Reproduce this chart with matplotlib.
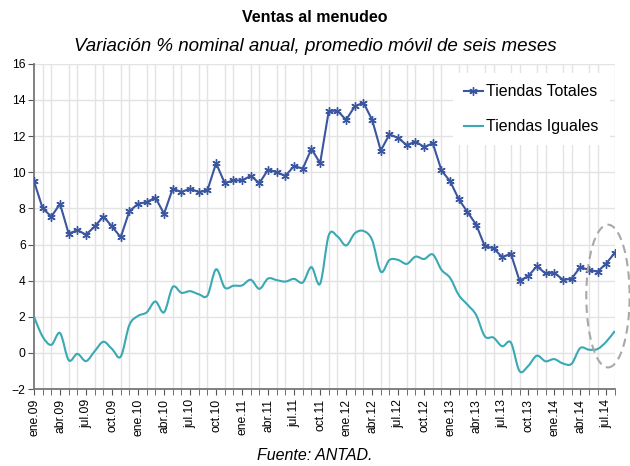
import numpy as np
import matplotlib.pyplot as plt
from matplotlib.path import Path
from matplotlib.patches import PathPatch, Ellipse
from matplotlib.lines import Line2D

plt.rcParams['font.family'] = ['Liberation Sans', 'DejaVu Sans']

meses = ['ene', 'feb', 'mar', 'abr', 'may', 'jun', 'jul', 'ago', 'sep', 'oct', 'nov', 'dic']
anios = [9, 10, 11, 12, 13, 14]

# Tiendas Totales, ene.09 - ago.14
totales = [9.5, 8.0, 7.55, 8.25, 6.6, 6.8, 6.55, 7.0, 7.55, 7.0, 6.4, 7.85,
           8.25, 8.35, 8.6, 7.7, 9.1, 8.9, 9.1, 8.9, 9.0, 10.5, 9.4, 9.55,
           9.55, 9.8, 9.4, 10.15, 10.0, 9.8, 10.35, 10.2, 11.3, 10.5, 13.4, 13.4,
           12.9, 13.65, 13.85, 12.9, 11.2, 12.1, 11.9, 11.5, 11.7, 11.4, 11.6, 10.1,
           9.5, 8.5, 7.8, 7.1, 5.9, 5.8, 5.3, 5.5, 4.0, 4.25, 4.8, 4.4,
           4.45, 4.05, 4.1, 4.75, 4.6, 4.5, 4.95, 5.55]

# Tiendas Iguales, ene.09 - ago.14
iguales = [2.0, 0.9, 0.45, 1.1, -0.4, -0.05, -0.45, 0.1, 0.62, 0.22, -0.2, 1.55,
           2.05, 2.25, 2.85, 2.25, 3.65, 3.33, 3.42, 3.25, 3.18, 4.63, 3.62, 3.72,
           3.74, 4.05, 3.55, 4.12, 4.03, 3.95, 4.1, 3.9, 4.75, 3.83, 6.52, 6.45,
           5.95, 6.62, 6.75, 6.25, 4.5, 5.15, 5.15, 4.93, 5.33, 5.2, 5.45, 4.6,
           4.15, 3.2, 2.67, 2.1, 0.92, 0.85, 0.37, 0.58, -1.0, -0.72, -0.15, -0.46,
           -0.34, -0.58, -0.6, 0.27, 0.18, 0.22, 0.62, 1.22]

etiquetas = [f'{m}.{a:02d}' for a in anios for m in meses][:len(totales)]

azul = '#3b56a0'
turquesa = '#3aa9b3'


def curva_suave(x, y):
    # Bezier tipo Catmull-Rom, como la linea suavizada de Excel
    pts = np.column_stack([x, y])
    n = len(pts)
    verts = [pts[0]]
    codes = [Path.MOVETO]
    for i in range(n - 1):
        p0 = pts[max(i - 1, 0)]
        p1 = pts[i]
        p2 = pts[i + 1]
        p3 = pts[min(i + 2, n - 1)]
        c1 = p1 + (p2 - p0) / 6.0
        c2 = p2 - (p3 - p1) / 6.0
        verts += [c1, c2, p2]
        codes += [Path.CURVE4] * 3
    return Path(verts, codes)


fig = plt.figure(figsize=(6.3, 4.66), dpi=100)
ax = fig.add_axes([0.054, 0.165, 0.922, 0.698])

x = np.arange(len(totales))

ax.plot(x, totales, color=azul, lw=1.5, marker=(6, 2, 0), ms=6,
        mew=1.0, mec=azul, zorder=4)
ax.add_patch(PathPatch(curva_suave(x, iguales), fill=False, edgecolor=turquesa,
                       lw=1.5, zorder=3))

ax.set_xlim(0, len(totales) - 1)
ax.set_ylim(-2, 16)
ax.set_yticks(np.arange(-2, 17, 2))
ax.set_xticks(x, minor=True)
ax.set_xticks(x[::3])
ax.set_xticklabels(etiquetas[::3], rotation=90, fontsize=8.7)
ax.tick_params(axis='y', labelsize=8.7, length=4, color='#555555', pad=2)
ax.tick_params(axis='x', which='both', length=4, color='#555555', pad=3)

ax.grid(True, which='major', axis='y', color='#e3e3e3', lw=1.0)
ax.grid(True, which='minor', axis='x', color='#e3e3e3', lw=1.0)
ax.set_axisbelow(True)
for s in ['top', 'right']:
    ax.spines[s].set_visible(False)
for s in ['left', 'bottom']:
    ax.spines[s].set_color('#777777')
    ax.spines[s].set_linewidth(1.3)

ell = Ellipse((66.2, 3.15), 5.0, 7.9, fill=False, edgecolor='#a8a8a8',
              lw=1.5, ls=(0, (4, 2.5)), clip_on=False, zorder=5)
ax.add_patch(ell)

handles = [Line2D([], [], color=azul, lw=1.5, marker=(6, 2, 0), ms=6, mew=1.0),
           Line2D([], [], color=turquesa, lw=1.5)]
leg = ax.legend(handles, ['Tiendas Totales', 'Tiendas Iguales'],
                loc='upper right', bbox_to_anchor=(0.991, 0.972),
                fontsize=11.5, handlelength=1.2, handletextpad=0.2,
                labelspacing=1.25, borderaxespad=0, fancybox=False,
                framealpha=1, edgecolor='none', borderpad=0.7)
leg.set_zorder(6)

fig.text(0.5, 0.962, 'Ventas al menudeo', ha='center', va='center',
         fontsize=11.5, fontweight='bold')
fig.text(0.5, 0.901, 'Variación % nominal anual, promedio móvil de seis meses',
         ha='center', va='center', fontsize=13.5, style='italic')
fig.text(0.5, 0.023, 'Fuente: ANTAD.', ha='center', va='center',
         fontsize=11.5, style='italic')

fig.savefig('out.png', dpi=100)
